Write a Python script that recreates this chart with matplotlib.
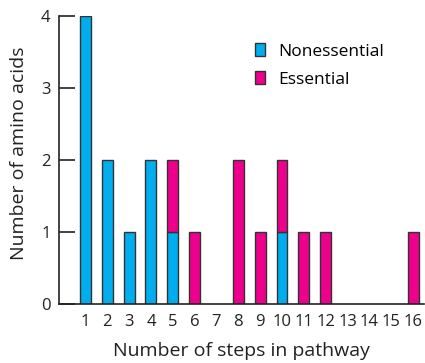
import matplotlib.pyplot as plt
from matplotlib.patches import Patch

steps = list(range(1, 17))
tick_labels = [str(s) for s in steps]
nonessential = [4, 2, 1, 2, 1, 0, 0, 0, 0, 1, 0, 0, 0, 0, 0, 0]
essential = [0, 0, 0, 0, 1, 1, 0, 2, 1, 1, 1, 1, 0, 0, 0, 1]

cyan = '#00AEEF'
magenta = '#EC008C'
edge = '#333333'
ink = '#222222'

plt.rcParams['font.family'] = ['Open Sans', 'DejaVu Sans']

fig = plt.figure(figsize=(4.25, 3.63), dpi=100)
ax = fig.add_axes([59 / 425, 59 / 363, 365 / 425, 288 / 363])

for s, n, e in zip(steps, nonessential, essential):
    if n > 0:
        ax.bar(s, n, width=0.5, color=cyan, edgecolor=edge, linewidth=1)
    if e > 0:
        ax.bar(s, e, width=0.5, bottom=n, color=magenta, edgecolor=edge, linewidth=1)

ax.set_xlim(-0.21, 16.5)
ax.set_ylim(0, 4)
ax.set_yticks([0, 1, 2, 3, 4])
ax.set_xticks(steps)
ax.set_xticklabels(tick_labels)
ax.tick_params(axis='y', direction='in', length=11.5, width=1.2, labelsize=12, pad=6, colors=ink)
ax.tick_params(axis='x', length=0, labelsize=12, pad=7.5, colors=ink)
for side in ['top', 'right']:
    ax.spines[side].set_visible(False)
for side in ['left', 'bottom']:
    ax.spines[side].set_linewidth(1.2)
    ax.spines[side].set_color(ink)

ax.set_xlabel('Number of steps in pathway', fontsize=14, color=ink, labelpad=8)
ax.set_ylabel('Number of amino acids', fontsize=14, color=ink)
ax.yaxis.set_label_coords(-0.085, 0.525)

handles = [Patch(facecolor=cyan, edgecolor=edge, label='Nonessential'),
           Patch(facecolor=magenta, edgecolor=edge, label='Essential')]
ax.legend(handles=handles, frameon=False, fontsize=12.5, handlelength=0.58, handleheight=0.8,
          handletextpad=0.75, labelspacing=0.65, borderpad=0, borderaxespad=0,
          loc='upper left', bbox_to_anchor=(0.537, 0.906))

fig.savefig('out.png', dpi=100)
